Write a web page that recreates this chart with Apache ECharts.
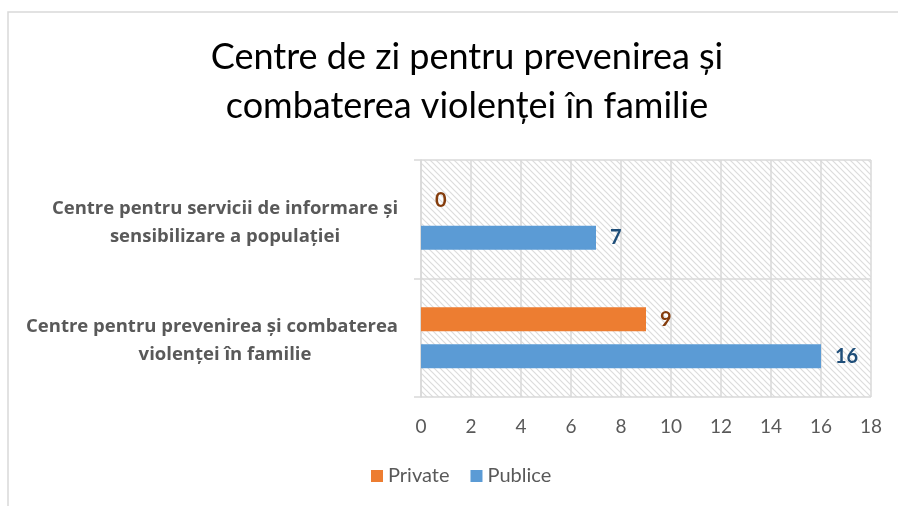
<!DOCTYPE html>
<html>
<head>
<meta charset="utf-8">
<script src="https://cdn.jsdelivr.net/npm/echarts@6/dist/echarts.min.js"></script>
<style>
  html, body { margin: 0; padding: 0; background: #fff; }
  #container { width: 898px; height: 506px; }
</style>
</head>
<body>
<div id="container"></div>
<script>
// categories from bottom to top (category axis starts at the bottom)
var categories = [
  'Centre pentru prevenirea și combaterea\nviolenței în familie',
  'Centre pentru servicii de informare și\nsensibilizare a populației'
];
var privateValues = [9, 0];
var publiceValues = [16, 7];
var seriesNames = ['Private', 'Publice'];
var titleText = 'Centre de zi pentru prevenirea și\ncombaterea violenței în familie';

var fontName = 'Lato';
var labelFont = '"Open Sans"';

// hatched background for the plot area
function makeHatch() {
  var c = document.createElement('canvas');
  c.width = 6; c.height = 6;
  var ctx = c.getContext('2d');
  ctx.fillStyle = '#ffffff';
  ctx.fillRect(0, 0, 6, 6);
  ctx.strokeStyle = '#dcdcdc';
  ctx.lineWidth = 1.2;
  ctx.beginPath();
  ctx.moveTo(-1, -1); ctx.lineTo(7, 7);
  ctx.moveTo(-4, 2); ctx.lineTo(4, 10);
  ctx.moveTo(2, -4); ctx.lineTo(10, 4);
  ctx.stroke();
  return c;
}

var dom = document.getElementById('container');
var myChart = echarts.init(dom);

var option = {
  animation: false,
  backgroundColor: '#ffffff',
  graphic: [{
    type: 'rect',
    z: -1,
    shape: { x: 8, y: 12, width: 1000, height: 600 },
    style: { fill: 'none', stroke: '#d9d9d9', lineWidth: 1.5 }
  }],
  title: {
    text: titleText,
    left: 462,
    textAlign: 'center',
    top: 28,
    textStyle: {
      fontFamily: fontName,
      fontWeight: 'normal',
      fontSize: 36,
      lineHeight: 49,
      color: '#000000'
    }
  },
  legend: {
    data: seriesNames,
    bottom: 15,
    left: 366,
    itemWidth: 12,
    itemHeight: 12,
    itemGap: 21,
    icon: 'rect',
    textStyle: { fontFamily: fontName, fontSize: 20, color: '#595959' }
  },
  grid: {
    left: 421,
    right: 27,
    top: 160,
    bottom: 109,
    show: true,
    borderWidth: 0,
    backgroundColor: { image: makeHatch(), repeat: 'repeat' }
  },
  xAxis: {
    type: 'value',
    min: 0,
    max: 18,
    interval: 2,
    axisLine: { show: false },
    axisTick: { show: false },
    splitLine: { show: true, lineStyle: { color: '#d9d9d9', width: 1.5 } },
    axisLabel: { fontFamily: fontName, fontSize: 19, color: '#595959', margin: 20 }
  },
  yAxis: {
    type: 'category',
    data: categories,
    axisLine: { show: true, lineStyle: { color: '#d9d9d9', width: 1.5 } },
    axisTick: { show: true, length: 7, lineStyle: { color: '#d9d9d9', width: 1.5 } },
    splitLine: { show: true, lineStyle: { color: '#d9d9d9', width: 1.5 } },
    axisLabel: {
      fontFamily: labelFont,
      fontSize: 18.5,
      fontWeight: 'bold',
      color: '#595959',
      lineHeight: 28,
      align: 'center',
      padding: [6, 0, 0, 0],
      margin: 196,
      // the long first line of the bottom label sits a bit further left
      formatter: function (value, index) {
        var lines = value.split('\n');
        if (index === 0) lines[0] = '{wide|' + lines[0] + '}';
        return lines.join('\n');
      },
      rich: {
        wide: {
          fontFamily: labelFont,
          fontSize: 18.5,
          fontWeight: 'bold',
          color: '#595959',
          lineHeight: 28,
          padding: [0, 26, 0, 0]
        }
      }
    }
  },
  series: [
    {
      name: 'Private',
      type: 'bar',
      data: privateValues,
      barWidth: 24,
      barGap: '54%',
      itemStyle: { color: '#ED7D31' },
      label: {
        show: true,
        position: 'right',
        distance: 14,
        fontFamily: fontName,
        fontSize: 20,
        fontWeight: 'bold',
        color: '#843C0C'
      }
    },
    {
      name: 'Publice',
      type: 'bar',
      data: publiceValues,
      barWidth: 24,
      barGap: '54%',
      itemStyle: { color: '#5B9BD5' },
      label: {
        show: true,
        position: 'right',
        distance: 14,
        fontFamily: fontName,
        fontSize: 20,
        fontWeight: 'bold',
        color: '#1F4E79'
      }
    }
  ]
};

myChart.setOption(option, true);
</script>
</body>
</html>
